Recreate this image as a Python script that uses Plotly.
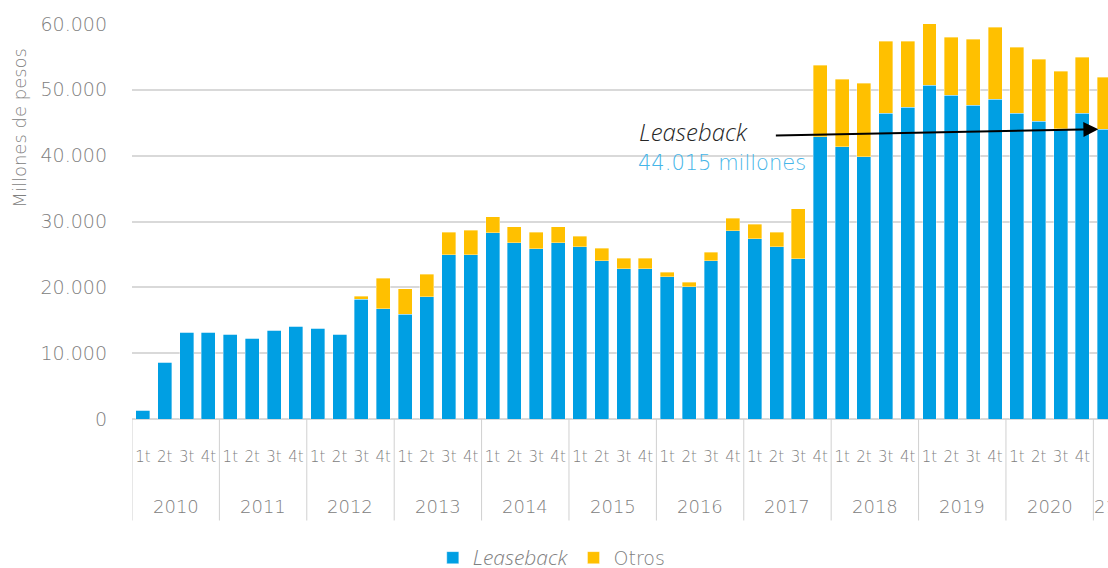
import plotly.graph_objects as go

years = ["2010", "2011", "2012", "2013", "2014", "2015", "2016", "2017", "2018", "2019", "2020", "2021"]
quarters = ["1t", "2t", "3t", "4t"]
n_bars = 45

leaseback = [1320, 8600, 13160, 13160,
             12850, 12250, 13460, 14070,
             13770, 12850, 18200, 16740,
             15890, 18560, 24940, 24940,
             28280, 26760, 25850, 26760,
             26150, 24030, 22860, 22860,
             21600, 20080, 24030, 28580,
             27370, 26150, 24330, 42850,
             41330, 39810, 46440, 47350,
             50690, 49170, 47660, 48570,
             46440, 45230, 44100, 46440,
             44015]
otros = [0, 0, 0, 0,
         0, 0, 0, 0,
         0, 0, 470, 4610,
         3890, 3400, 3390, 3700,
         2480, 2480, 2480, 2480,
         1580, 1870, 1530, 1530,
         660, 670, 1270, 1880,
         2180, 2180, 7590, 10880,
         10270, 11180, 10930, 10020,
         9410, 8810, 10010, 10920,
         10020, 9410, 8720, 8510,
         7885]

quarter_labels = [quarters[i % 4] for i in range(n_bars)]
x_idx = list(range(n_bars))

FONT = "DejaVu Sans"
IFONT = "Open Sans"
W = 200
GREY = "#808080"
BLUE = "#009FE3"
YELLOW = "#FFC000"

fig = go.Figure()
fig.add_trace(go.Bar(x=x_idx, y=leaseback,
                     name="<span style=\"font-family:'Open Sans';font-weight:300;font-size:21px\"><i>Leaseback</i></span>",
                     marker=dict(color=BLUE, line=dict(color="rgba(255,255,255,0.6)", width=0.6))))
fig.add_trace(go.Bar(x=x_idx, y=otros, name="Otros",
                     marker=dict(color=YELLOW, line=dict(color="rgba(255,255,255,0.6)", width=0.6))))

shapes = []
for k in range(12):
    xd = -0.5 + 4 * k
    shapes.append(dict(type="line", xref="x", yref="paper", x0=xd, x1=xd, y0=0, y1=-0.257,
                       line=dict(color="#d0d0d0", width=1)))

annotations = []
for k, yr in enumerate(years):
    if k < 11:
        annotations.append(dict(x=4 * k + 1.5, y=-0.222, xref="x", yref="paper", text=yr,
                                showarrow=False, xanchor="center", yanchor="middle",
                                font=dict(family=FONT, size=18, color=GREY, weight=W)))
    else:
        annotations.append(dict(x=43.5, y=-0.222, xref="x", yref="paper", text=yr[-2:],
                                showarrow=False, xanchor="left", yanchor="middle", xshift=-1,
                                font=dict(family=FONT, size=18, color=GREY, weight=W)))

annotations.append(dict(x=-0.115, y=0.737, xref="paper", yref="paper", text="Millones de pesos",
                        showarrow=False, textangle=-90, xanchor="center", yanchor="middle",
                        font=dict(family=FONT, size=18, color=GREY, weight=W)))
annotations.append(dict(x=22.6, y=43600, xref="x", yref="y", text="<i>Leaseback</i>",
                        showarrow=False, xanchor="left", yanchor="middle",
                        font=dict(family=IFONT, size=24, color="#262626", weight=300)))
annotations.append(dict(x=22.55, y=38900, xref="x", yref="y", text="44.015 millones",
                        showarrow=False, xanchor="left", yanchor="middle",
                        font=dict(family=FONT, size=21, color="#45B5E8", weight=W)))
annotations.append(dict(x=43.73, y=leaseback[-1], xref="x", yref="y", ax=28.9, ay=43050,
                        axref="x", ayref="y", text="", showarrow=True, arrowhead=2,
                        arrowsize=1.5, arrowwidth=2, arrowcolor="#000000", standoff=0))

fig.update_layout(
    width=1108, height=568,
    barmode="stack", bargap=0.36,
    separators=",.",
    plot_bgcolor="white", paper_bgcolor="white",
    margin=dict(l=132.3, r=0, t=23.7, b=148.7, autoexpand=False),
    font=dict(family=FONT, color=GREY, weight=W),
    showlegend=True,
    legend=dict(orientation="h", xref="container", yref="container", x=0.498, y=0.018,
                xanchor="center", yanchor="middle", font=dict(family=FONT, size=19, color=GREY, weight=W),
                itemwidth=30, traceorder="normal"),
    shapes=shapes, annotations=annotations,
)
fig.update_xaxes(range=[-0.5, 44.17], tickmode="array", tickvals=x_idx, ticktext=quarter_labels,
                 showgrid=False, zeroline=False, showline=False, ticks="",
                 tickfont=dict(family=FONT, size=15, color=GREY, weight=W), tickangle=0,
                 ticklabelstandoff=27, fixedrange=True)
fig.update_yaxes(range=[0, 60000], dtick=10000, tickformat=",d", showgrid=True,
                 gridcolor="#d9d9d9", gridwidth=1.5, zeroline=True, zerolinecolor="#d9d9d9",
                 zerolinewidth=1.5, showline=False, ticks="",
                 tickfont=dict(family=FONT, size=19, color=GREY, weight=W),
                 ticklabelstandoff=24, fixedrange=True)

fig.write_html("out.html", config={"displayModeBar": False},
               post_script="document.body.style.margin='0';")
